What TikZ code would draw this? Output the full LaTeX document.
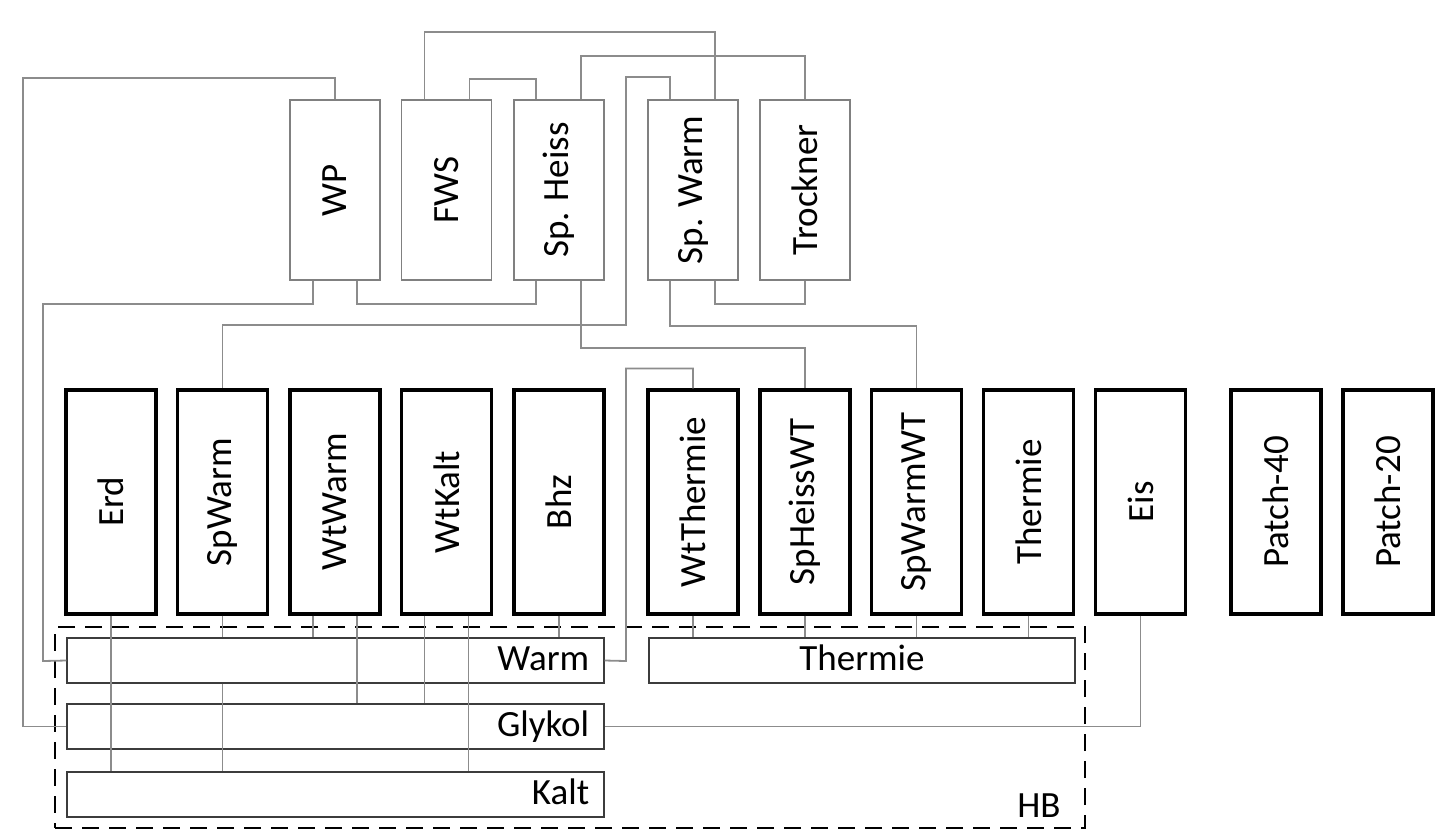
\documentclass[tikz,border=0pt]{standalone}
\usepackage{fontspec}
\setmainfont{Carlito}
\usepackage{tikz}
\definecolor{pipegray}{RGB}{140,140,140}
\definecolor{boxgray}{RGB}{128,128,128}
\definecolor{bargray}{RGB}{60,60,60}
\newcommand{\lblfont}{\fontsize{18.5}{22}\selectfont}
\tikzset{
  topbox/.style  = {rectangle, minimum width=45pt, minimum height=90pt, inner sep=0pt,
                    draw=boxgray, line width=0.9pt, font=\lblfont},
  unitbox/.style = {rectangle, minimum width=45pt, minimum height=112pt, inner sep=0pt,
                    draw=black, line width=1.6pt, font=\lblfont},
  barbox/.style  = {rectangle, minimum width=268.5pt, minimum height=22.5pt, inner sep=0pt,
                    draw=bargray, line width=0.6pt},
  hbbox/.style   = {rectangle, minimum width=515pt, minimum height=100.5pt, inner sep=0pt,
                    draw=black, line width=0.8pt, dash pattern=on 8.5pt off 5pt},
  barlbl/.style  = {font=\lblfont, inner sep=0pt, anchor=base east},
  pipe/.style    = {draw=pipegray, line width=0.9pt},
  tap/.style     = {draw=pipegray, line width=0.65pt}
}

\begin{document}
\begin{tikzpicture}[x=0.5pt, y=-0.5pt]
  \useasboundingbox (0,0) rectangle (1447,832);
  % Upper units
  \node[topbox] (wp)  at (335,190)   {\rotatebox{90}{WP}};
  \node[topbox] (fws) at (446.5,190) {\rotatebox{90}{FWS}};
  \node[topbox] (sph) at (559,190)   {\rotatebox{90}{Sp. Heiss}};
  \node[topbox] (spw) at (693,190)   {\rotatebox{90}{Sp. Warm}};
  \node[topbox] (trk) at (805,190)   {\rotatebox{90}{Trockner}};
  % Unit row
  \node[unitbox] (erd)    at (111,502)    {\rotatebox{90}{Erd}};
  \node[unitbox] (spwarm) at (222.5,502)  {\rotatebox{90}{SpWarm}};
  \node[unitbox] (wtwarm) at (335,502)    {\rotatebox{90}{WtWarm}};
  \node[unitbox] (wtkalt) at (446.5,502)  {\rotatebox{90}{WtKalt}};
  \node[unitbox] (bhz)    at (559,502)    {\rotatebox{90}{Bhz}};
  \node[unitbox] (wtth)   at (693,502)    {\rotatebox{90}{WtThermie}};
  \node[unitbox] (sphwt)  at (805,502)    {\rotatebox{90}{SpHeissWT}};
  \node[unitbox] (spwwt)  at (916.5,502)  {\rotatebox{90}{SpWarmWT}};
  \node[unitbox] (therm)  at (1028.5,502) {\rotatebox{90}{Thermie}};
  \node[unitbox] (eis)    at (1140.5,502) {\rotatebox{90}{Eis}};
  \node[unitbox] (p40)    at (1276,502)   {\rotatebox{90}{Patch-40}};
  \node[unitbox] (p20)    at (1388,502)   {\rotatebox{90}{Patch-20}};
  % HB block with its bars
  \node[hbbox]  (hb)       at (570,727.5)   {};
  \node[barbox] (warm)     at (335.5,660.5) {};
  \node[barbox, minimum width=213pt] (thermbar) at (862,660.5) {};
  \node[barbox] (glyk)     at (335.5,726.5) {};
  \node[barbox] (kalt)     at (335.5,794.5) {};
  \node[barlbl] (warmlbl)  at ([shift={(-15,10)}]warm.east) {Warm};
  \node[barlbl] (glyklbl)  at ([shift={(-15,10)}]glyk.east) {Glykol};
  \node[barlbl] (kaltlbl)  at ([shift={(-15,10)}]kalt.east) {Kalt};
  \node[barlbl, anchor=base] (thermlbl) at ([shift={(0,10)}]thermbar.center) {Thermie};
  \node[barlbl] (hblbl)    at (1061,817) {HB};
  % Pipes above the upper units
  \draw[pipe] (wp.north) |- (23,78) |- (glyk.west);
  \draw[pipe] ([xshift=-11pt]fws.north) -- ++(0,-67) -| ([xshift=11pt]spw.north);
  \draw[pipe] ([xshift=11.5pt]fws.north) -- ++(0,-20) -| ([xshift=-11.5pt]sph.north);
  \draw[pipe] ([xshift=11pt]sph.north) -- ++(0,-43) -| (trk.north);
  \draw[pipe] ([xshift=-11.5pt]spw.north) -- ++(0,-22) -| (626,325) -| (spwarm.north);
  % Pipes below the upper units
  \draw[pipe] ([xshift=-11pt]wp.south) -- ++(0,23) -| (43,661) -- (warm.west);
  \draw[pipe] ([xshift=11pt]wp.south) -- ++(0,23) -| ([xshift=-11.5pt]sph.south);
  \draw[pipe] ([xshift=11pt]sph.south) -- ++(0,67) -| (sphwt.north);
  \draw[pipe] ([xshift=-11.5pt]spw.south) -- ++(0,45) -| (spwwt.north);
  \draw[pipe] ([xshift=11pt]spw.south) -- ++(0,23) -| (trk.south);
  \draw[pipe] (wtth.north) -- ++(0,-20) -| (626,661) -- (warm.east);
  \draw[pipe] (eis.south) |- (glyk.east);
  % Taps into the bars
  \coordinate (ww1) at ([xshift=-11pt]wtwarm.south);
  \coordinate (ww2) at ([xshift=11pt]wtwarm.south);
  \coordinate (wk1) at ([xshift=-11pt]wtkalt.south);
  \coordinate (wk2) at ([xshift=11pt]wtkalt.south);
  \draw[tap] (erd.south) -- (erd.south |- kalt.north);
  \draw[tap] (spwarm.south) -- (spwarm.south |- warm.north);
  \draw[tap] (warm.south -| spwarm.south) -- (spwarm.south |- kalt.north);
  \draw[tap] (ww1) -- (ww1 |- warm.north); \draw[tap] (ww2) -- (ww2 |- glyk.north);
  \draw[tap] (wk1) -- (wk1 |- glyk.north); \draw[tap] (wk2) -- (wk2 |- kalt.north);
  \draw[tap] (bhz.south) -- (bhz.south |- warm.north);
  \draw[tap] (wtth.south) -- (wtth.south |- thermbar.north);
  \draw[tap] (sphwt.south) -- (sphwt.south |- thermbar.north);
  \draw[tap] (spwwt.south) -- (spwwt.south |- thermbar.north);
  \draw[tap] (therm.south) -- (therm.south |- thermbar.north);
\end{tikzpicture}
\end{document}
